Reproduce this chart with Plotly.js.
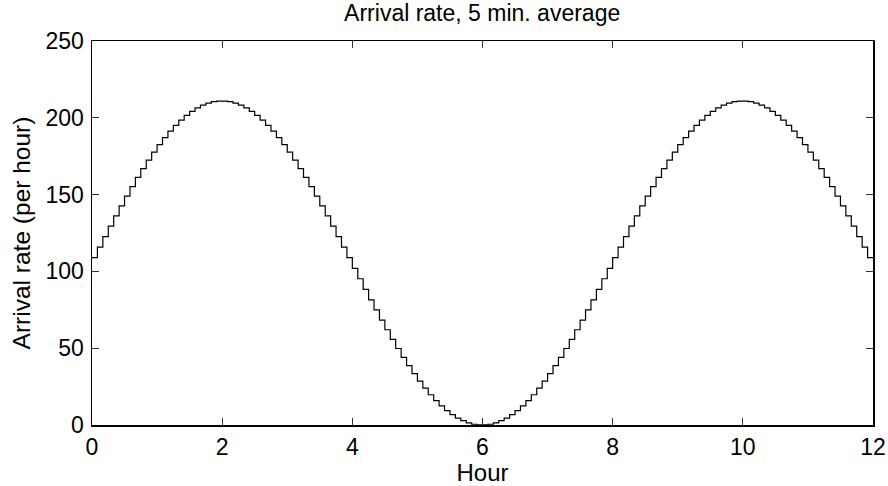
<!DOCTYPE html>
<html><head><meta charset="utf-8">
<script src="https://cdn.plot.ly/plotly-3.0.1.min.js"></script>
<style>html,body{margin:0;padding:0;background:#fff}#chart{width:888px;height:486px}</style>
</head><body><div id="chart"></div>
<script>
// 5-minute average arrival rate (per hour), 144 intervals over 12 hours
const rates = [
 109.0,115.8,122.7,129.5,136.1,142.7,149.0,155.2,161.2,166.9,172.4,177.6,
 182.5,187.1,191.3,195.1,198.5,201.6,204.2,206.5,208.2,209.6,210.5,210.9,
 210.9,210.5,209.6,208.2,206.5,204.2,201.6,198.5,195.1,191.3,187.1,182.5,
 177.6,172.4,166.9,161.2,155.2,149.0,142.7,136.1,129.5,122.7,115.8,109.0,
 102.0,95.2,88.3,81.5,74.9,68.3,62.0,55.8,49.8,44.0,38.6,33.4,
 28.5,24.0,19.7,15.9,12.5,9.4,6.8,4.5,2.8,1.4,0.5,0.1,
 0.1,0.5,1.4,2.8,4.5,6.8,9.4,12.5,15.9,19.7,24.0,28.5,
 33.4,38.6,44.0,49.8,55.8,62.0,68.3,74.9,81.5,88.3,95.2,102.0,
 109.0,115.8,122.7,129.5,136.1,142.7,149.0,155.2,161.2,166.9,172.4,177.6,
 182.5,187.1,191.3,195.1,198.5,201.6,204.2,206.5,208.2,209.6,210.5,210.9,
 210.9,210.5,209.6,208.2,206.5,204.2,201.6,198.5,195.1,191.3,187.1,182.5,
 177.6,172.4,166.9,161.2,155.2,149.0,142.7,136.1,129.5,122.7,115.8,109.0
];
const intervalHours = 5/60;
const xTicks = [0,2,4,6,8,10,12];
const yTicks = [0,50,100,150,200,250];

const xs = rates.map((_, i) => i * intervalHours);
xs.push(rates.length * intervalHours);
const ys = rates.slice();
ys.push(rates[rates.length - 1]);

const fam = 'Liberation Sans, Arial, sans-serif';
const font = {family: fam, size: 23, color: '#000'};
const titleFont = {family: fam, size: 24, color: '#000'};
const axisCommon = {
  showgrid: false, zeroline: false, showline: true, linecolor: '#000', linewidth: 1.5,
  mirror: 'ticks', ticks: 'inside', ticklen: 7, tickcolor: '#333', tickwidth: 1,
  tickfont: font
};
Plotly.newPlot('chart', [{
  x: xs, y: ys, type: 'scatter', mode: 'lines',
  line: {shape: 'hv', color: '#000', width: 1.2},
  hoverinfo: 'skip'
}], {
  width: 888, height: 486,
  margin: {l: 92, r: 15, t: 41, b: 61},
  paper_bgcolor: '#fff', plot_bgcolor: '#fff',
  showlegend: false,
  font: font,
  title: {text: 'Arrival rate, 5 min. average', font: font, x: 0.543, xanchor: 'center', y: 0.973, yanchor: 'middle'},
  xaxis: Object.assign({}, axisCommon, {
    range: [0, 12], tickvals: xTicks, ticktext: xTicks.map(String),
    ticklabelstandoff: 1,
    title: {text: 'Hour', font: titleFont, standoff: 2}
  }),
  yaxis: Object.assign({}, axisCommon, {
    range: [0, 250], tickvals: yTicks, ticktext: yTicks.map(String),
    ticklabelstandoff: 2,
    title: {text: 'Arrival rate (per hour)', font: {family: fam, size: 24.5, color: '#000'}, standoff: 8}
  })
}, {staticPlot: true});
</script></body></html>
